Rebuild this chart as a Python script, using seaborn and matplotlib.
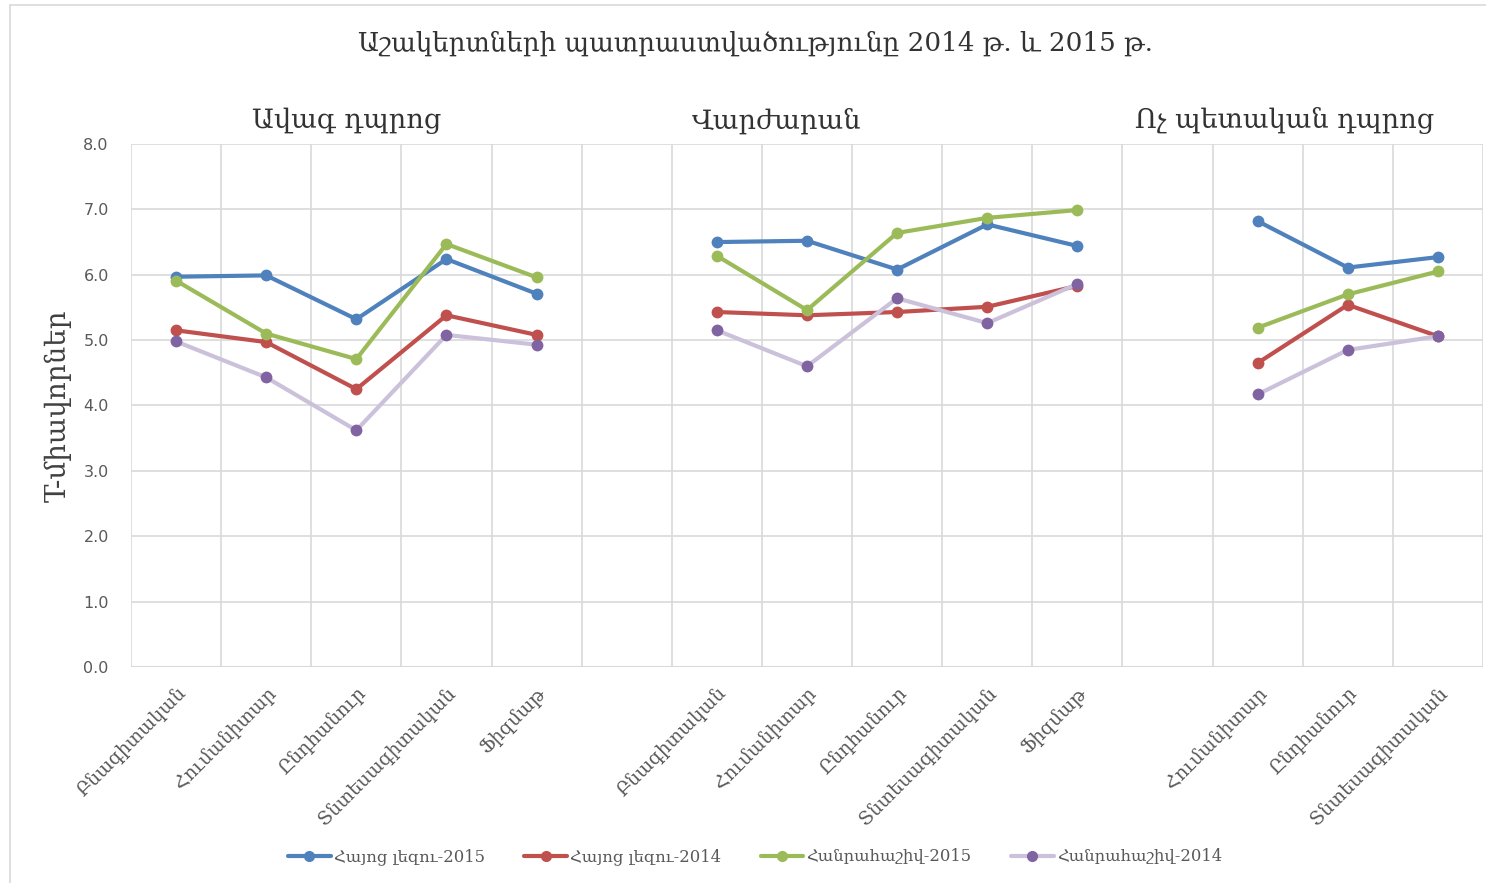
import matplotlib
matplotlib.use("Agg")
import matplotlib.pyplot as plt
from matplotlib.lines import Line2D
from matplotlib.colors import to_hex
import seaborn as sns
import pandas as pd
import numpy as np

# ---------------- data ----------------
title = "Աշակերտների պատրաստվածությունը 2014 թ. և 2015 թ."
ylabel = "T-միավորներ"
group_names = ["Ավագ դպրոց", "Վարժարան", "Ոչ պետական դպրոց"]
group1_cats = ["Բնագիտական", "Հումանիտար", "Ընդհանուր", "Տնտեսագիտական", "Ֆիզմաթ"]
group2_cats = ["Բնագիտական", "Հումանիտար", "Ընդհանուր", "Տնտեսագիտական", "Ֆիզմաթ"]
group3_cats = ["Հումանիտար", "Ընդհանուր", "Տնտեսագիտական"]
series_names = ["Հայոց լեզու-2015", "Հայոց լեզու-2014", "Հանրահաշիվ-2015", "Հանրահաշիվ-2014"]

arm_2015_g1 = [5.97, 5.99, 5.32, 6.24, 5.71]
arm_2014_g1 = [5.15, 4.97, 4.25, 5.38, 5.08]
alg_2015_g1 = [5.91, 5.10, 4.71, 6.47, 5.96]
alg_2014_g1 = [4.98, 4.43, 3.62, 5.08, 4.93]

arm_2015_g2 = [6.50, 6.52, 6.08, 6.77, 6.44]
arm_2014_g2 = [5.43, 5.38, 5.43, 5.51, 5.83]
alg_2015_g2 = [6.29, 5.46, 6.64, 6.87, 6.99]
alg_2014_g2 = [5.15, 4.60, 5.64, 5.26, 5.86]

arm_2015_g3 = [6.82, 6.11, 6.27]
arm_2014_g3 = [4.65, 5.54, 5.06]
alg_2015_g3 = [5.19, 5.70, 6.05]
alg_2014_g3 = [4.17, 4.85, 5.06]

line_colors = ["#4F81BD", "#C0504D", "#9BBB59", "#CCC1DA"]
marker_colors = ["#4F81BD", "#C0504D", "#9BBB59", "#8064A2"]

# ---------------- build table ----------------
groups = [
    (group1_cats, [arm_2015_g1, arm_2014_g1, alg_2015_g1, alg_2014_g1]),
    (group2_cats, [arm_2015_g2, arm_2014_g2, alg_2015_g2, alg_2014_g2]),
    (group3_cats, [arm_2015_g3, arm_2014_g3, alg_2015_g3, alg_2014_g3]),
]
rows = []
tick_pos, tick_lab = [], []
pos = 0
for gi, (cats, vals) in enumerate(groups):
    for ci, c in enumerate(cats):
        tick_pos.append(pos + ci)
        tick_lab.append(c)
        for si, s in enumerate(series_names):
            rows.append(dict(pos=pos + ci, value=vals[si][ci], series=s, group=gi))
    pos += len(cats) + 1
n_slots = pos - 1
df = pd.DataFrame(rows)

# ---------------- plot ----------------
sns.set_theme(style="white")
plt.rcParams["font.family"] = ["DejaVu Sans"]
W, H = 1486, 883
fig = plt.figure(figsize=(W / 100, H / 100), dpi=100)
ax = fig.add_axes([131 / W, 1 - 667 / H, (1483 - 131) / W, (667 - 144) / H])

sns.lineplot(data=df, x="pos", y="value", hue="series", units="group",
             estimator=None, palette=dict(zip(series_names, line_colors)),
             hue_order=series_names, marker="o", markersize=8.5, linewidth=3.0,
             markeredgewidth=0, legend=False, ax=ax, sort=False)

cmap = dict(zip(line_colors, marker_colors))
for ln in ax.lines:
    c = to_hex(ln.get_color()).upper()
    if c in cmap:
        ln.set_markerfacecolor(cmap[c])
        ln.set_markeredgecolor(cmap[c])

ax.set_xlim(-0.5, n_slots - 0.5)
ax.set_ylim(0, 8)
ax.set_yticks(np.arange(0, 8.01, 1.0))
ax.set_yticklabels([f"{v:.1f}" for v in np.arange(0, 8.01, 1.0)],
                   color="#595959", fontsize=11.5)
ax.set_xticks(tick_pos)
ax.set_xticklabels(tick_lab, rotation=45, ha="right", rotation_mode="anchor",
                   color="#595959", fontsize=13.5, family=["DejaVu Serif"])
ax.tick_params(axis="x", length=0, pad=12)
ax.tick_params(axis="y", length=0, pad=16)
ax.set_xlabel("")
ax.set_ylabel(ylabel, fontsize=20, family=["DejaVu Serif"], color="#404040", labelpad=8)

for v in np.arange(1, 8.01, 1.0):
    ax.axhline(v, color="#D9D9D9", lw=1.2, zorder=0)
for x in np.arange(-0.5, n_slots, 1.0):
    ax.axvline(x, color="#D9D9D9", lw=1.2, zorder=0)
for s in ax.spines.values():
    s.set_visible(False)
ax.axhline(0, color="#D9D9D9", lw=1.5, zorder=0)

# titles
fig.text(755 / W, 1 - 43 / H, title, ha="center", va="center", fontsize=18.8,
         family=["DejaVu Serif"], color="#333333")
for name, cx in zip(group_names, [347, 776, 1285]):
    fig.text(cx / W, 1 - 121 / H, name, ha="center", va="center", fontsize=19.5,
             family=["DejaVu Serif"], color="#333333")

# legend
handles = [Line2D([0], [0], color=lc, lw=3, marker="o", markersize=7,
                  markerfacecolor=mc, markeredgecolor=mc)
           for lc, mc in zip(line_colors, marker_colors)]
leg = fig.legend(handles, series_names, loc="center", bbox_to_anchor=(755 / W, 1 - 857 / H),
                 ncol=4, frameon=False, handlelength=2.6, columnspacing=2.4,
                 handletextpad=0.2, prop={"family": ["DejaVu Serif"], "size": 11.8})
for t in leg.get_texts():
    t.set_color("#595959")

# chart-area border
fig.add_artist(Line2D([10 / W, 10 / W], [0, 1 - 5 / H], transform=fig.transFigure,
                      color="#D9D9D9", lw=1.2))
fig.add_artist(Line2D([10 / W, 1], [1 - 5 / H, 1 - 5 / H], transform=fig.transFigure,
                      color="#D9D9D9", lw=1.2))

fig.savefig("out.png", dpi=100, facecolor="white")
